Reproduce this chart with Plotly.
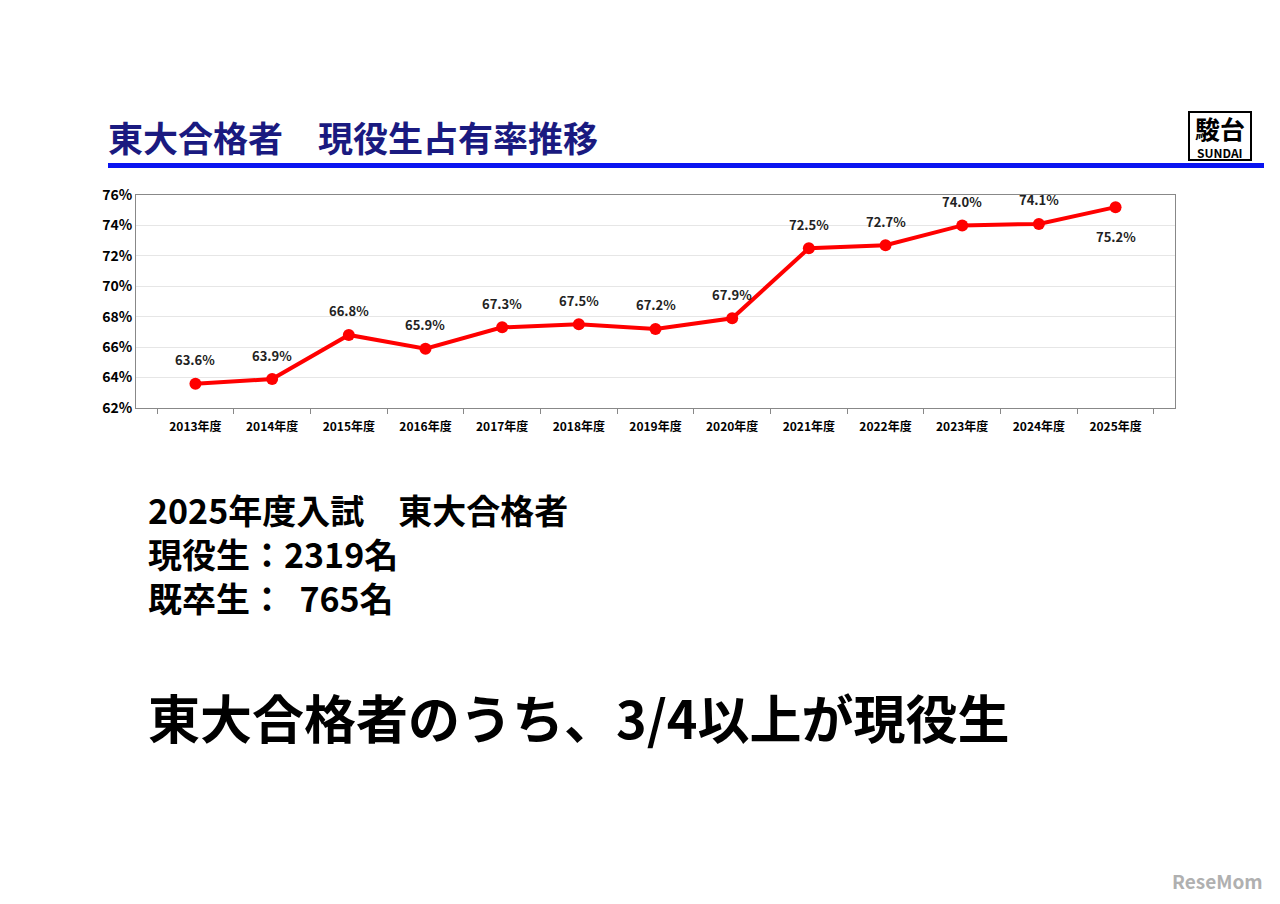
import plotly.graph_objects as go

years = ["2013年度", "2014年度", "2015年度", "2016年度", "2017年度", "2018年度", "2019年度",
         "2020年度", "2021年度", "2022年度", "2023年度", "2024年度", "2025年度"]
rates = [63.6, 63.9, 66.8, 65.9, 67.3, 67.5, 67.2, 67.9, 72.5, 72.7, 74.0, 74.1, 75.2]
below = [False] * 12 + [True]  # only the last label sits under its point

FONT = "Noto Sans CJK JP"
OFF = 8  # page body margin
# plot area in reference pixels
L, R, T, B = 136, 1175, 195, 408


def px(x):
    return (x - L) / (R - L)


def py(y):
    return (B - y) / (B - T)


fig = go.Figure()
fig.add_trace(go.Scatter(
    x=years, y=rates, mode="lines+markers",
    line=dict(color="#ff0000", width=4),
    marker=dict(color="#ff0000", size=12),
    cliponaxis=False, hoverinfo="skip"))

fig.update_layout(
    width=1280, height=904, paper_bgcolor="white", plot_bgcolor="white",
    margin=dict(l=L - OFF, r=1280 - R + OFF, t=T - OFF, b=904 - B + OFF), showlegend=False,
    font=dict(family=FONT, color="#000"),
)
fig.update_yaxes(range=[62, 76], dtick=2, showgrid=True,
                 tickvals=list(range(62, 77, 2)), ticktext=[f"<b>{v}%</b>" for v in range(62, 77, 2)],
                 gridcolor="#e6e6e6", showline=True, linecolor="#888", mirror=True,
                 tickfont=dict(size=14, family=FONT, color="#000"), ticks="", zeroline=False)
fig.update_xaxes(showline=True, linecolor="#888", mirror=True, showgrid=False,
                 tickvals=years, ticktext=[f"<b>{y}</b>" for y in years],
                 tickfont=dict(size=12, family=FONT, color="#000"), ticklabelstandoff=8,
                 ticks="outside", tickson="boundaries", ticklen=5, tickcolor="#888")

ann = []
for yr, v, b in zip(years, rates, below):
    ann.append(dict(x=yr, y=v, text=f"<b>{v:.1f}%</b>", showarrow=False,
                    yshift=-29 if b else 24, font=dict(family=FONT, size=13, color="#222")))


def text(x, y, s, size, color="#000", anchor="left", bold=True, align="left"):
    ann.append(dict(xref="paper", yref="paper", x=px(x), y=py(y), text=f"<b>{s}</b>" if bold else s,
                    showarrow=False, xanchor=anchor, yanchor="middle", align=align,
                    font=dict(family=FONT, size=size, color=color)))


text(106, 136, "東大合格者　現役生占有率推移", 35, "#1a1a80")
text(146, 553, "2025年度入試　東大合格者<br>現役生：2319名<br>既卒生：&nbsp;&nbsp;765名", 34)
text(146, 716, "東大合格者のうち、3/4以上が現役生", 52)
text(1220, 128, "駿台", 25, anchor="center")
text(1220, 152, "SUNDAI", 12, anchor="center")
text(1217, 880, "ReseMom", 19, "#b0b0b0", anchor="center")
fig.update_layout(annotations=ann)

fig.add_shape(type="rect", xref="paper", yref="paper", x0=px(108), x1=px(1264),
              y0=py(163), y1=py(168), fillcolor="#0a14f0", line_width=0)
fig.add_shape(type="rect", xref="paper", yref="paper", x0=px(1189), x1=px(1251),
              y0=py(160), y1=py(112), fillcolor="rgba(0,0,0,0)",
              line=dict(color="#000", width=2))

fig.write_html("out.html")
